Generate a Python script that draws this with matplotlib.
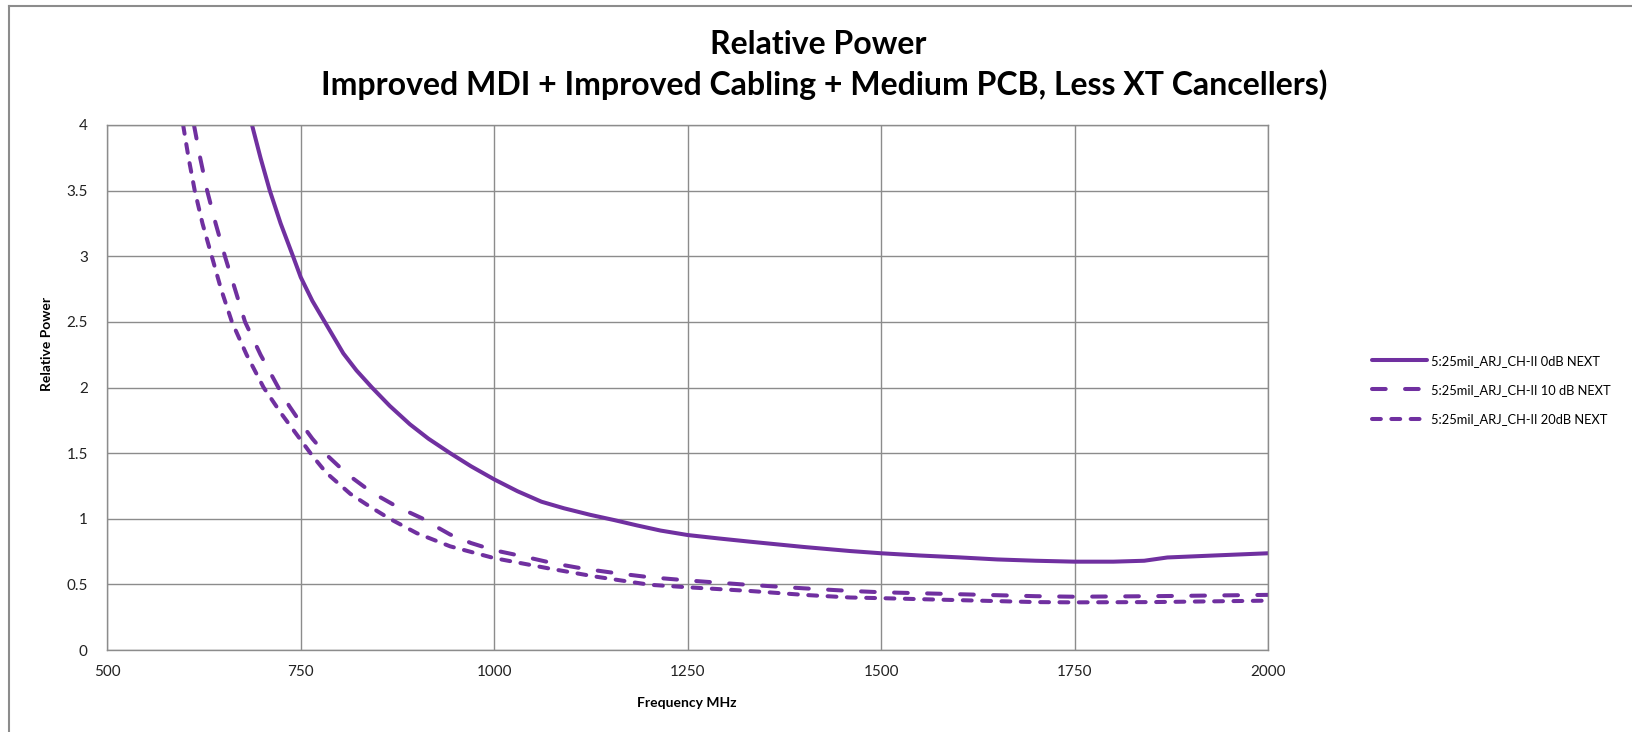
"""
plot.py

Relative power vs frequency for the 5:25mil ARJ CH-II channel at three
NEXT levels (improved MDI + cabling, medium PCB, no XT cancellers).
"""
import matplotlib
matplotlib.use("Agg")
import matplotlib.pyplot as plt
from matplotlib.lines import Line2D

PURPLE = '#7030A0'
GRID = '#8c8c8c'
FONT = ['Lato', 'DejaVu Sans']

# values (MHz, relative power)
freq_0db = [687, 698, 710, 724, 740, 750, 765, 781, 805, 822, 842, 865, 891, 915,
            943, 970, 1000, 1030, 1061, 1090, 1124, 1155, 1184, 1215, 1250, 1290,
            1331, 1400, 1460, 1500, 1550, 1600, 1650, 1700, 1750, 1800, 1840, 1870,
            1930, 2000]
power_0db = [4.0, 3.75, 3.5, 3.25, 3.0, 2.84, 2.66, 2.5, 2.26, 2.13, 2.0, 1.86, 1.72,
             1.61, 1.5, 1.4, 1.3, 1.21, 1.13, 1.08, 1.03, 0.99, 0.95, 0.91, 0.876,
             0.85, 0.825, 0.785, 0.754, 0.737, 0.72, 0.706, 0.69, 0.68, 0.673, 0.673,
             0.68, 0.705, 0.72, 0.737]

freq_10db = [612, 620, 629, 640, 652, 665, 678, 698, 721, 735, 750, 765, 781, 810,
             842, 875, 908, 925, 943, 970, 1000, 1040, 1077, 1115, 1158, 1200, 1250,
             1320, 1400, 1460, 1500, 1600, 1700, 1750, 1850, 2000]
power_10db = [4.0, 3.75, 3.5, 3.25, 3.0, 2.75, 2.5, 2.25, 2.0, 1.86, 1.73, 1.61, 1.5,
              1.34, 1.2, 1.09, 1.0, 0.94, 0.88, 0.815, 0.76, 0.71, 0.66, 0.62, 0.585,
              0.555, 0.53, 0.5, 0.47, 0.45, 0.44, 0.425, 0.41, 0.406, 0.41, 0.42]

freq_20db = [598, 605, 613, 623, 635, 647, 661, 680, 702, 725, 750, 765, 783, 814,
             840, 865, 900, 943, 1000, 1072, 1130, 1201, 1250, 1330, 1400, 1460, 1500,
             1600, 1700, 1750, 1850, 2000]
power_20db = [4.0, 3.75, 3.5, 3.25, 3.0, 2.75, 2.5, 2.25, 2.0, 1.8, 1.6, 1.48, 1.35,
              1.19, 1.09, 1.0, 0.89, 0.79, 0.7, 0.62, 0.56, 0.497, 0.478, 0.45, 0.42,
              0.4, 0.395, 0.38, 0.365, 0.363, 0.365, 0.376]

series_labels = ['5:25mil_ARJ_CH-II 0dB NEXT',
                 '5:25mil_ARJ_CH-II 10 dB NEXT',
                 '5:25mil_ARJ_CH-II 20dB NEXT']

x_ticks = [500, 750, 1000, 1250, 1500, 1750, 2000]
y_ticks = [0, 0.5, 1, 1.5, 2, 2.5, 3, 3.5, 4]
y_tick_labels = ['0', '0.5', '1', '1.5', '2', '2.5', '3', '3.5', '4']

W, H = 1633, 732


def main():
    plt.rcParams['font.family'] = FONT
    fig = plt.figure(figsize=(W / 100, H / 100), dpi=100)
    ax = fig.add_axes([107.3 / W, 1 - 650 / H, (1268 - 107.3) / W, (650 - 125) / H])

    lw = 2.9
    ax.plot(freq_0db, power_0db, color=PURPLE, lw=lw, solid_capstyle='round',
            solid_joinstyle='round', label=series_labels[0])
    ax.plot(freq_10db, power_10db, color=PURPLE, lw=lw, dashes=(3.4, 4.8),
            dash_capstyle='round', label=series_labels[1])
    ax.plot(freq_20db, power_20db, color=PURPLE, lw=lw, dashes=(2.2, 2.6),
            dash_capstyle='round', label=series_labels[2])

    ax.set_xlim(500, 2000)
    ax.set_ylim(0, 4)
    ax.set_xticks(x_ticks)
    ax.set_yticks(y_ticks)
    ax.set_yticklabels(y_tick_labels)
    ax.grid(True, color=GRID, lw=1)
    ax.set_axisbelow(True)
    ax.tick_params(length=0, labelsize=11, colors='#222222')
    ax.tick_params(axis='x', pad=11)
    ax.tick_params(axis='y', pad=14)
    for side in ['left', 'bottom', 'right', 'top']:
        ax.spines[side].set_color(GRID)
        ax.spines[side].set_linewidth(1)

    fig.text(818 / W, 1 - 45 / H, 'Relative Power', ha='center', va='center',
             fontsize=23, fontweight='bold')
    fig.text(824 / W, 1 - 85 / H,
             'Improved MDI + Improved Cabling + Medium PCB, Less XT Cancellers)',
             ha='center', va='center', fontsize=23, fontweight='bold')
    fig.text(687 / W, 1 - 703 / H, 'Frequency MHz', ha='center', va='center',
             fontsize=10, fontweight='bold')
    fig.text(47 / W, 1 - 344 / H, 'Relative Power', ha='center', va='center',
             rotation=90, fontsize=10, fontweight='bold')

    ax.legend(loc='center left', bbox_to_anchor=(1360 / W, 1 - 390 / H),
              bbox_transform=fig.transFigure, frameon=False, fontsize=9.3,
              handlelength=4.3, handletextpad=0.3, labelspacing=1.35)

    # chart border (top and left edges only are visible in the original)
    fig.add_artist(Line2D([9 / W, 9 / W], [0, 1 - 6 / H], color='#8c8c8c', lw=1.5))
    fig.add_artist(Line2D([9 / W, 1], [1 - 6 / H, 1 - 6 / H], color='#8c8c8c', lw=1.5))

    fig.savefig('out.png', dpi=100)
    plt.close(fig)


if __name__ == "__main__":
    main()
